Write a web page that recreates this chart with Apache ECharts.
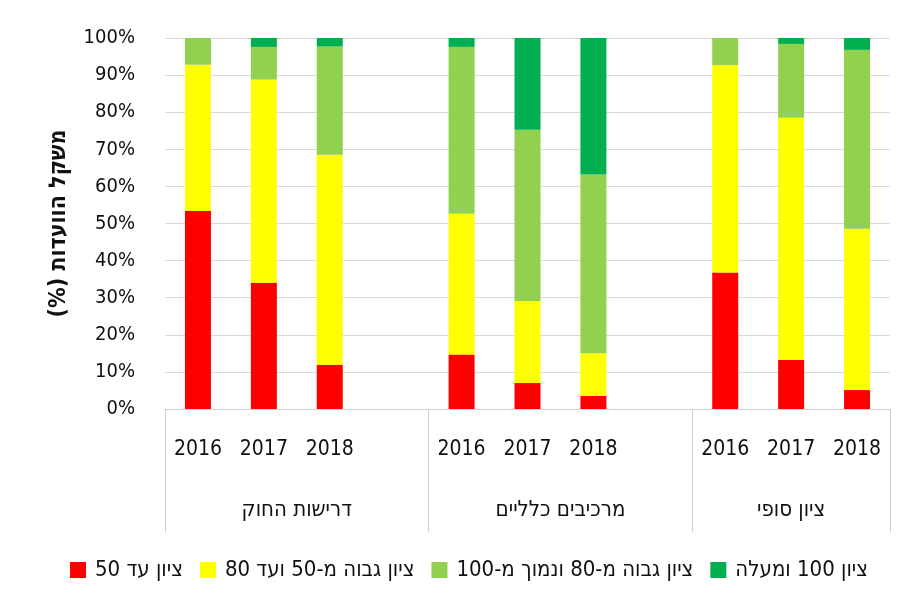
<!DOCTYPE html>
<html>
<head>
<meta charset="utf-8">
<script src="https://cdn.jsdelivr.net/npm/echarts@6/dist/echarts.min.js"></script>
<style>
html,body{margin:0;padding:0;background:#fff;}
#chart{width:903px;height:603px;}
</style>
</head>
<body>
<div id="chart" dir="rtl"></div>
<script>
// ---- data ----
const years = ['2016', '2017', '2018'];
const groups = ['דרישות החוק', 'מרכיבים כלליים', 'ציון סופי'];
const seriesNames = ['ציון עד 50', 'ציון גבוה מ-50 ועד 80', 'ציון גבוה מ-80 ונמוך מ-100', 'ציון 100 ומעלה'];
const red        = [53.4, 34.0, 11.9,  14.7,  7.0,  3.5,  36.8, 13.2,  5.1];
const yellow     = [39.4, 54.8, 56.6,  37.9, 22.1, 11.5,  55.9, 65.3, 43.5];
const lightGreen = [ 7.2,  8.8, 29.2,  45.0, 46.2, 48.2,   7.3, 19.9, 48.2];
const darkGreen  = [ 0.0,  2.4,  2.3,   2.4, 24.7, 36.8,   0.0,  1.6,  3.2];
const yTicks = [0, 10, 20, 30, 40, 50, 60, 70, 80, 90, 100];

const colors = ['#FF0000', '#FFFF00', '#92D050', '#00B050'];
const FONT = "'Liberation Sans Narrow', 'DejaVu Sans Condensed', 'Liberation Sans', sans-serif";

// build slot layout: each group is years, then an empty spacer slot (except last)
const cats = [];
const slotIndexOfValue = [];
groups.forEach((g, gi) => {
  years.forEach(y => { slotIndexOfValue.push(cats.length); cats.push(y); });
  if (gi < groups.length - 1) cats.push('');
});
function toSlots(arr) {
  const out = cats.map(() => '-');
  arr.forEach((v, i) => { out[slotIndexOfValue[i]] = v; });
  return out;
}
// group axis on half-slot points
const nSlots = cats.length;
const halfPts = nSlots * 2 + 1;
const groupCats = new Array(halfPts).fill('');
const boundaries = [];
let start = 0;
groups.forEach((g, gi) => {
  const len = years.length + (gi < groups.length - 1 ? 1 : 0);
  boundaries.push(start * 2);
  groupCats[start * 2 + len] = g;
  start += len;
});
boundaries.push(nSlots * 2);

const data = [red, yellow, lightGreen, darkGreen];

const chart = echarts.init(document.getElementById('chart'), null, {renderer: 'canvas'});
chart.setOption({
  animation: false,
  textStyle: {fontFamily: FONT},
  grid: {left: 165, right: 13, top: 38, bottom: 194, containLabel: false},
  legend: {
    data: seriesNames,
    bottom: 17,
    left: 65,
    itemWidth: 16,
    itemHeight: 16,
    itemGap: 17,
    icon: 'rect',
    textStyle: {fontSize: 22, color: '#111', fontFamily: FONT, padding: [0, 0, 0, 4]}
  },
  xAxis: [{
    type: 'category',
    data: cats,
    axisLine: {show: true, lineStyle: {color: '#d0d0d0', width: 1}},
    axisTick: {show: false},
    axisLabel: {color: '#111', fontSize: 21, margin: 30, interval: 0, fontFamily: FONT}
  }, {
    type: 'category',
    data: groupCats,
    boundaryGap: false,
    position: 'bottom',
    axisLine: {show: false},
    axisTick: {show: true, length: 123, lineStyle: {color: '#d0d0d0', width: 1},
      interval: (idx) => boundaries.includes(idx)},
    axisLabel: {color: '#111', fontSize: 22, margin: 90, interval: 0, fontFamily: FONT}
  }],
  yAxis: {
    type: 'value',
    min: yTicks[0],
    max: yTicks[yTicks.length - 1],
    interval: yTicks[1] - yTicks[0],
    name: 'משקל הוועדות (%)',
    nameLocation: 'middle',
    nameGap: 94,
    nameTextStyle: {fontSize: 23, fontWeight: 'bold', color: '#111', fontFamily: FONT},
    axisLine: {show: false},
    axisTick: {show: false},
    axisLabel: {formatter: '{value}%', color: '#111', fontSize: 20, margin: 30, fontFamily: FONT},
    splitLine: {lineStyle: {color: '#d9d9d9', width: 1}}
  },
  series: seriesNames.map((name, i) => ({
    name: name,
    type: 'bar',
    stack: 'total',
    xAxisIndex: 0,
    barWidth: 26,
    itemStyle: {color: colors[i]},
    data: toSlots(data[i])
  }))
});
</script>
</body>
</html>
